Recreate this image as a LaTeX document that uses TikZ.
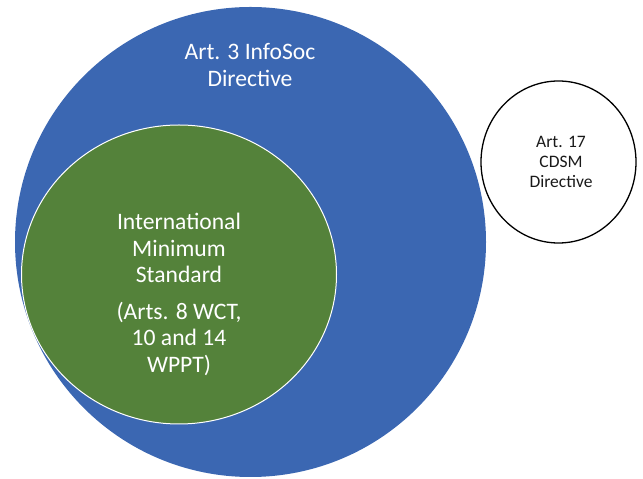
\documentclass[tikz,border=0pt]{standalone}
\usepackage{fontspec}
\setmainfont{Carlito}
\usepackage{tikz}
\usetikzlibrary{shapes.geometric}
\definecolor{infoblue}{HTML}{3B67B2}
\definecolor{minigreen}{HTML}{54823A}

\begin{document}
\begin{tikzpicture}[
  x=1pt, y=1pt,
  blob/.style={
    ellipse, inner sep=0pt, outer sep=0pt
  },
  lbl/.style={
    align=center, inner sep=0pt
  }
]
  \useasboundingbox (0,0) rectangle (643,479);
  \node[blob, fill=infoblue, minimum width=471pt, minimum height=470pt] (infosoc) at (250.5,237){};
  \node[blob, fill=minigreen, draw=white, line width=1pt,
        minimum width=315pt, minimum height=299pt] (minstd) at (179,204.5){};
  \node[blob, draw=black, line width=1.3pt,
        minimum width=155pt, minimum height=162pt] (cdsm) at (558.5,317){};
  \node[lbl, text=white, font=\fontsize{23.6}{27}\selectfont] (infosoctxt) at (250,413.5)
    {Art. 3 InfoSoc\\Directive};
  \node[lbl, text=white, font=\fontsize{23.6}{26.5}\selectfont] (minstdtxt) at (179,184.5)
    {International\\Minimum\\Standard\\[10pt](Arts. 8 WCT,\\10 and 14\\WPPT)};
  \node[lbl, text=black!90, font=\fontsize{17.5}{20}\selectfont] (cdsmtxt) at (561,317)
    {Art. 17\\CDSM\\Directive};
\end{tikzpicture}
\end{document}
